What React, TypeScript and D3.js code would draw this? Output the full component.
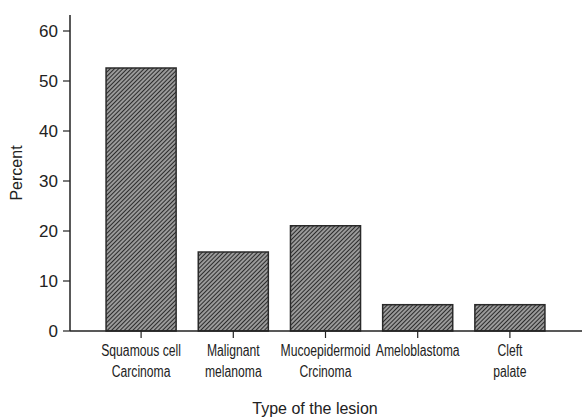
import * as d3 from "d3"
import React from "react"

const categories = [
    ["Squamous cell", "Carcinoma"],
    ["Malignant", "melanoma"],
    ["Mucoepidermoid", "Crcinoma"],
    ["Ameloblastoma"],
    ["Cleft", "palate"]
]
const percents = [52.6, 15.8, 21.05, 5.26, 5.26]
const yTicks = [0, 10, 20, 30, 40, 50, 60]

const App = () => {
    const width = 586
    const height = 419
    const axisLeft = 70
    const axisBottom = 331
    const axisRight = 582

    const x = d3
        .scaleBand()
        .domain(categories.map((c, i) => String(i)))
        .range([95, 556])
        .paddingInner(0.24)
        .paddingOuter(0.12)

    const y = d3.scaleLinear().domain([0, 60]).range([axisBottom, 31])
    const yTop = y(63.2)

    const font = "'Liberation Sans', Arial, Helvetica, sans-serif"

    return (
        <svg width={width} height={height} style={{ position: "absolute", left: 0, top: 0, background: "#fff" }}>
            <defs>
                <pattern id="hatch" patternUnits="userSpaceOnUse" width="3" height="3" patternTransform="rotate(45)">
                    <rect width="3" height="3" fill="#9a9a9a" />
                    <line x1="0" y1="0" x2="0" y2="3" stroke="#262626" strokeWidth="1.9" />
                </pattern>
            </defs>

            {/* bars */}
            {percents.map((v, i) => (
                <rect
                    key={i}
                    x={x(String(i))}
                    y={y(v)}
                    width={x.bandwidth()}
                    height={axisBottom - y(v)}
                    fill="url(#hatch)"
                    stroke="#2a2a2a"
                    strokeWidth={1.5}
                />
            ))}

            {/* y axis */}
            <line x1={axisLeft} x2={axisLeft} y1={yTop} y2={axisBottom} stroke="#222" strokeWidth={1.5} />
            {yTicks.map((t) => (
                <g key={t}>
                    <line x1={axisLeft - 7} x2={axisLeft} y1={y(t)} y2={y(t)} stroke="#222" strokeWidth={1.2} />
                    <text x={axisLeft - 12} y={y(t)} dy="0.36em" textAnchor="end" fontFamily={font} fontSize={17} fill="#222">
                        {t}
                    </text>
                </g>
            ))}
            <text
                transform={`translate(22, ${(yTop + axisBottom) / 2}) rotate(-90)`}
                textAnchor="middle"
                fontFamily={font}
                fontSize={16}
                fill="#222"
            >
                Percent
            </text>

            {/* x axis */}
            <line x1={axisLeft} x2={axisRight} y1={axisBottom} y2={axisBottom} stroke="#222" strokeWidth={1.5} />
            {categories.map((lines, i) => {
                const cx = x(String(i)) + x.bandwidth() / 2
                return (
                    <g key={i}>
                        <line x1={cx} x2={cx} y1={axisBottom} y2={axisBottom + 7} stroke="#222" strokeWidth={1.2} />
                        {lines.map((l, j) => (
                            <text
                                key={j}
                                transform={`translate(${cx}, ${356 + j * 21}) scale(0.76, 1)`}
                                textAnchor="middle"
                                fontFamily={font}
                                fontSize={16}
                                fill="#222"
                            >
                                {l}
                            </text>
                        ))}
                    </g>
                )
            })}
            <text x={315} y={414} textAnchor="middle" fontFamily={font} fontSize={16} fill="#222">
                Type of the lesion
            </text>
        </svg>
    )
}

export default App
